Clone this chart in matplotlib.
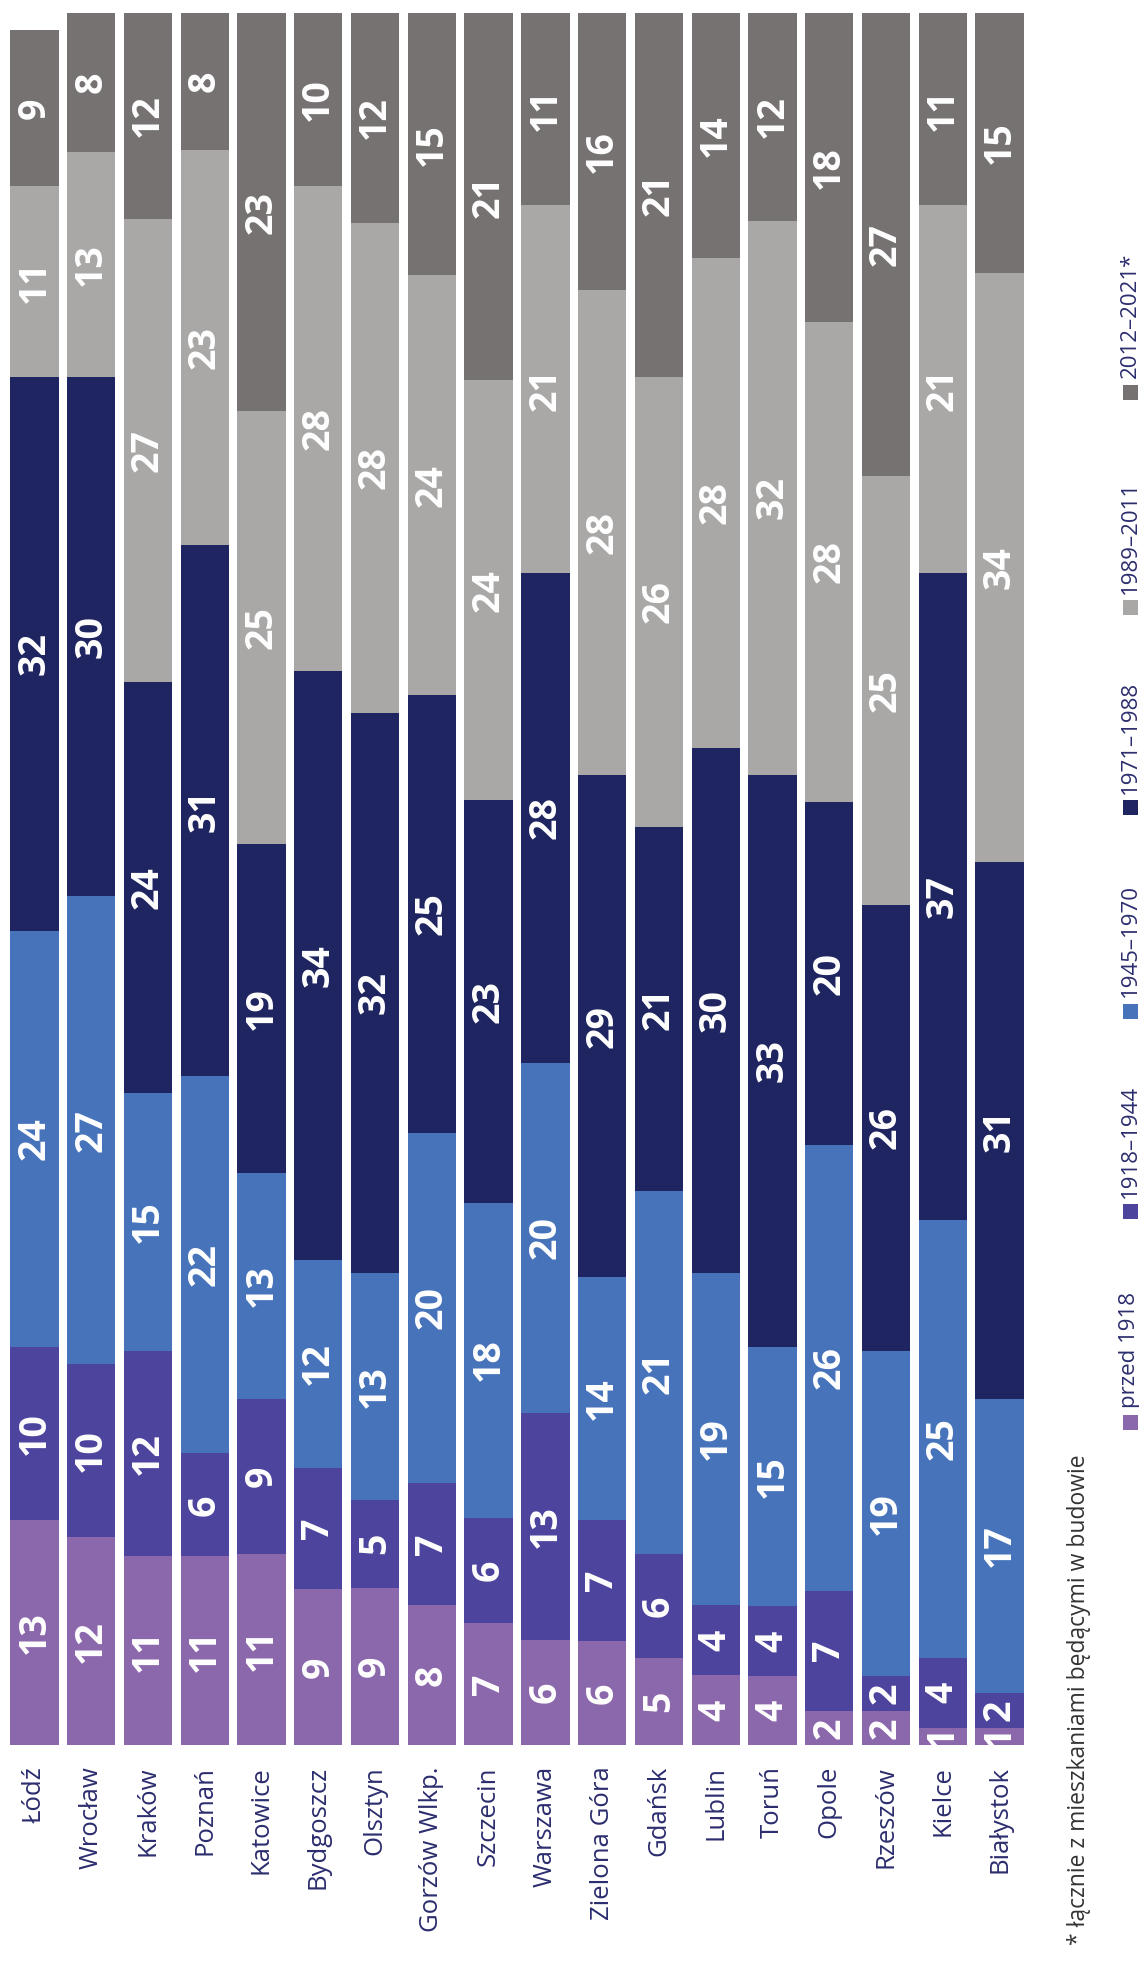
import matplotlib
matplotlib.use("Agg")
import matplotlib.pyplot as plt
from matplotlib.patches import Rectangle

cities = ["Łódź", "Wrocław", "Kraków", "Poznań", "Katowice", "Bydgoszcz", "Olsztyn",
          "Gorzów Wlkp.", "Szczecin", "Warszawa", "Zielona Góra", "Gdańsk", "Lublin",
          "Toruń", "Opole", "Rzeszów", "Kielce", "Białystok"]

periods = ["przed 1918", "1918–1944", "1945–1970", "1971–1988", "1989–2011", "2012–2021*"]

przed_1918 = [13, 12, 11, 11, 11, 9, 9, 8, 7, 6, 6, 5, 4, 4, 2, 2, 1, 1]
p_1918_1944 = [10, 10, 12, 6, 9, 7, 5, 7, 6, 13, 7, 6, 4, 4, 7, 2, 4, 2]
p_1945_1970 = [24, 27, 15, 22, 13, 12, 13, 20, 18, 20, 14, 21, 19, 15, 26, 19, 25, 17]
p_1971_1988 = [32, 30, 24, 31, 19, 34, 32, 25, 23, 28, 29, 21, 30, 33, 20, 26, 37, 31]
p_1989_2011 = [11, 13, 27, 23, 25, 28, 28, 24, 24, 21, 28, 26, 28, 32, 28, 25, 21, 34]
p_2012_2021 = [9, 8, 12, 8, 23, 10, 12, 15, 21, 11, 16, 21, 14, 12, 18, 27, 11, 15]

# visible total bar height (Łódź bar is visibly shorter)
bar_total = [99, 100, 100, 100, 100, 100, 100, 100, 100, 100, 100, 100, 100, 100, 100, 100, 100, 100]

colors = ["#8b67ac", "#4d449e", "#4773bb", "#1f2560", "#aaa8a7", "#767271"]

series = [przed_1918, p_1918_1944, p_1945_1970, p_1971_1988, p_1989_2011, p_2012_2021]

W, H = 1141, 1962
fig = plt.figure(figsize=(W / 100, H / 100), dpi=100)
fig.patch.set_facecolor("white")

# axes in pixel coords
ax_left, ax_right = 6, 1028
ax_bottom_px, ax_top_px = 1745, 13
ax = fig.add_axes([ax_left / W, 1 - ax_bottom_px / H, (ax_right - ax_left) / W,
                   (ax_bottom_px - ax_top_px) / H])

n = len(cities)
xs = list(range(n))
bottoms = [0.0] * n
for vals, col in zip(series, colors):
    heights = []
    for i in range(n):
        s = sum(ser[i] for ser in series)
        heights.append(vals[i] * bar_total[i] / s)
    ax.bar(xs, heights, bottom=bottoms, width=0.85, color=col, linewidth=0)
    for i in range(n):
        ax.text(xs[i], bottoms[i] + heights[i] / 2, str(vals[i]), rotation=90,
                ha="center", va="center", color="white", fontsize=27,
                fontweight="bold", family="Open Sans")
    bottoms = [b + h for b, h in zip(bottoms, heights)]

ax.set_xlim(-0.5, n - 0.5)
ax.set_ylim(0, 100)
ax.axis("off")

label_y = -(1766 - ax_bottom_px) / (ax_bottom_px - ax_top_px)
for i, c in enumerate(cities):
    ax.text(xs[i], label_y, c, rotation=90, ha="center", va="top",
            transform=ax.get_xaxis_transform(), color="#2c2d6e", fontsize=18.5,
            family="Open Sans")

# legend (rotated)
leg_x = 1130
sq_centers = [1422, 1211, 1011, 807, 607, 392]
sq = 15
for lab, col, yc in zip(periods, colors, sq_centers):
    fig.patches.append(Rectangle(((leg_x - sq / 2) / W, 1 - (yc + sq / 2) / H), sq / W, sq / H,
                                 transform=fig.transFigure, color=col, linewidth=0))
    fig.text(leg_x / W, 1 - (yc - sq / 2 - 6) / H, lab, rotation=90, ha="center", va="bottom",
             color="#2c2d6e", fontsize=16, family="Open Sans")

fig.text(1079 / W, 1 - 1945 / H, "* łącznie z mieszkaniami będącymi w budowie", rotation=90,
         ha="center", va="bottom", color="#333333", fontsize=16.5, family="Open Sans")

fig.savefig("out.png", dpi=100, facecolor="white")
